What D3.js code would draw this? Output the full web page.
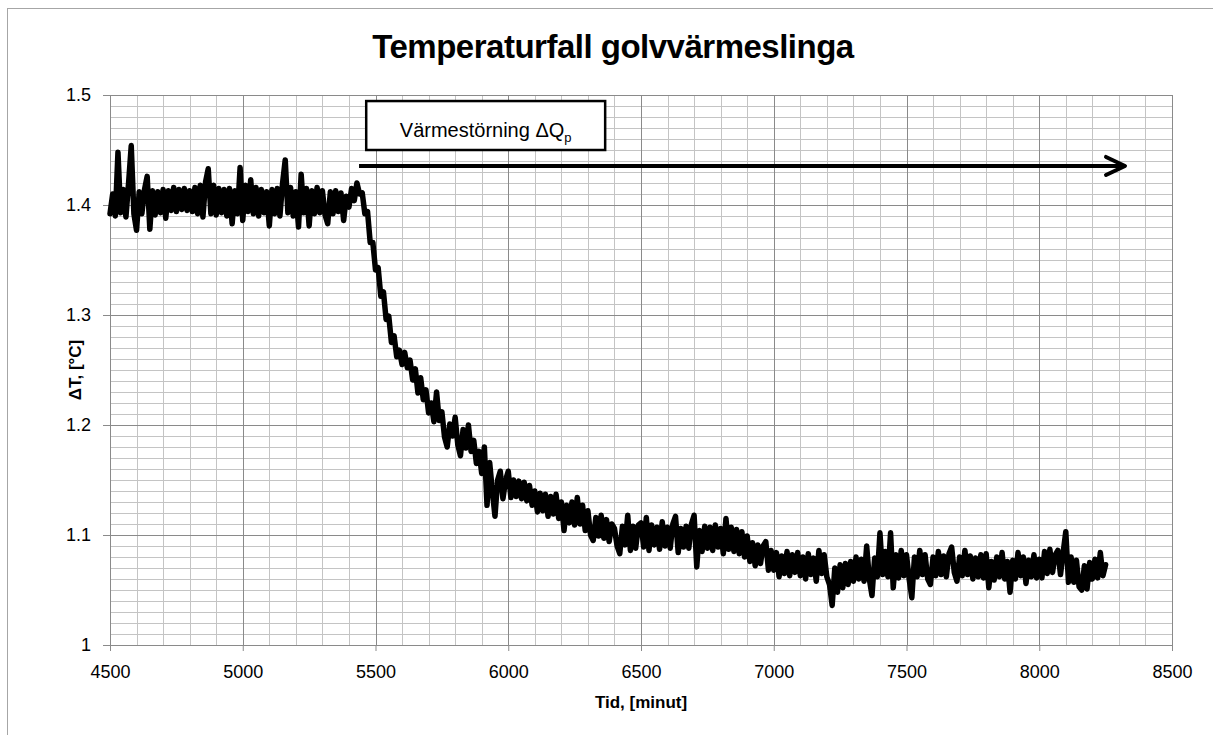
<!DOCTYPE html>
<html>
<head>
<meta charset="utf-8">
<script src="https://cdn.jsdelivr.net/npm/d3@7"></script>
<style>
    body { margin: 0; background: #fff; }
    svg { display: block; font-family: Arial, "Liberation Sans", sans-serif; }
</style>
</head>
<body>
<svg id="diagram" width="1213" height="735"></svg>
<script>

// Mätvärden, ett värde var 10:e minut.
var steg = 10;

// Stabil nivå före störningen (4500-5440 min).
var startStabil = 4500;
var deltaTStabil = [
    1.392, 1.410, 1.390, 1.448, 1.393, 1.414, 1.389, 1.420, 1.454, 1.392,
    1.377, 1.412, 1.392, 1.414, 1.426, 1.378, 1.413, 1.391, 1.412, 1.393,
    1.414, 1.388, 1.413, 1.395, 1.416, 1.394, 1.414, 1.396, 1.415, 1.395,
    1.413, 1.394, 1.416, 1.392, 1.418, 1.389, 1.421, 1.433, 1.392, 1.418,
    1.391, 1.415, 1.393, 1.414, 1.390, 1.415, 1.383, 1.413, 1.392, 1.434,
    1.386, 1.418, 1.394, 1.423, 1.392, 1.416, 1.390, 1.414, 1.393, 1.412,
    1.381, 1.414, 1.392, 1.415, 1.390, 1.420, 1.441, 1.393, 1.416, 1.390,
    1.412, 1.380, 1.428, 1.393, 1.415, 1.381, 1.413, 1.392, 1.416, 1.393,
    1.413, 1.391, 1.383, 1.412, 1.392, 1.413, 1.394, 1.411, 1.386, 1.408,
    1.398, 1.415, 1.404, 1.420, 1.410
];

// Fallet efter störningen (5450-5990 min).
var startFall = 5450;
var deltaTFall = [
    1.411, 1.392, 1.394, 1.366, 1.366, 1.341, 1.343, 1.317, 1.321, 1.296,
    1.299, 1.275, 1.281, 1.262, 1.268, 1.255, 1.266, 1.252, 1.259, 1.241,
    1.251, 1.229, 1.243, 1.223, 1.232, 1.211, 1.220, 1.203, 1.230, 1.204,
    1.212, 1.189, 1.180, 1.201, 1.190, 1.207, 1.182, 1.172, 1.196, 1.179,
    1.200, 1.176, 1.186, 1.165, 1.176, 1.156, 1.180, 1.127, 1.166, 1.140,
    1.117, 1.150, 1.158, 1.133, 1.150
];

// Ny jämviktsnivå (6000-8250 min).
var startSlut = 6000;
var deltaTSlut = [
    1.158, 1.134, 1.150, 1.135, 1.149, 1.133, 1.148, 1.131, 1.145, 1.127,
    1.140, 1.121, 1.138, 1.122, 1.137, 1.117, 1.135, 1.119, 1.137, 1.115,
    1.130, 1.104, 1.127, 1.111, 1.130, 1.109, 1.134, 1.110, 1.127, 1.104,
    1.122, 1.100, 1.095, 1.116, 1.099, 1.118, 1.097, 1.114, 1.094, 1.110,
    1.106, 1.090, 1.083, 1.108, 1.091, 1.118, 1.086, 1.108, 1.088, 1.109,
    1.111, 1.089, 1.116, 1.086, 1.109, 1.091, 1.107, 1.087, 1.112, 1.090,
    1.107, 1.088, 1.110, 1.117, 1.084, 1.106, 1.089, 1.108, 1.088, 1.110,
    1.118, 1.071, 1.104, 1.085, 1.108, 1.088, 1.107, 1.086, 1.109, 1.089,
    1.106, 1.083, 1.115, 1.087, 1.107, 1.085, 1.105, 1.083, 1.103, 1.080,
    1.099, 1.076, 1.093, 1.072, 1.091, 1.074, 1.090, 1.094, 1.068, 1.086,
    1.068, 1.084, 1.062, 1.081, 1.065, 1.085, 1.063, 1.082, 1.066, 1.084,
    1.063, 1.080, 1.060, 1.083, 1.064, 1.079, 1.058, 1.086, 1.065, 1.082,
    1.062, 1.055, 1.036, 1.070, 1.048, 1.073, 1.052, 1.074, 1.055, 1.076,
    1.058, 1.080, 1.060, 1.078, 1.058, 1.090, 1.060, 1.045, 1.079, 1.062,
    1.102, 1.064, 1.085, 1.062, 1.102, 1.052, 1.082, 1.061, 1.086, 1.063,
    1.082, 1.060, 1.043, 1.080, 1.062, 1.086, 1.064, 1.082, 1.060, 1.055,
    1.080, 1.063, 1.085, 1.064, 1.081, 1.062, 1.083, 1.089, 1.066, 1.058,
    1.080, 1.063, 1.086, 1.064, 1.081, 1.060, 1.079, 1.062, 1.082, 1.061,
    1.083, 1.052, 1.076, 1.059, 1.080, 1.062, 1.084, 1.060, 1.076, 1.048,
    1.077, 1.060, 1.084, 1.063, 1.080, 1.056, 1.077, 1.062, 1.082, 1.061,
    1.078, 1.061, 1.085, 1.065, 1.087, 1.066, 1.082, 1.086, 1.064, 1.084,
    1.103, 1.057, 1.080, 1.057, 1.077, 1.053, 1.050, 1.072, 1.051, 1.075,
    1.060, 1.078, 1.061, 1.084, 1.063, 1.073
];

// Axlarnas skalsteg och etiketter.
var xTicks = [4500, 5000, 5500, 6000, 6500, 7000, 7500, 8000, 8500];
var xTickLabels = ['4500', '5000', '5500', '6000', '6500', '7000', '7500', '8000', '8500'];
var yTicks = [1, 1.1, 1.2, 1.3, 1.4, 1.5];
var yTickLabels = ['1', '1.1', '1.2', '1.3', '1.4', '1.5'];

// Pilen och rutan för värmestörningen, i diagrammets enheter.
var storningRuta = { tidFran: 5465, tidTill: 6365, ovre: 1.4945, undre: 1.450 };
var storningPil = { tidFran: 5438, tidTill: 8323, niva: 1.4355 };


function tillPunkter(start, varden) {
    return varden.map(function (v, i) {
        return { tid: start + i * steg, dT: v };
    });
}

var data = tillPunkter(startStabil, deltaTStabil)
    .concat(tillPunkter(startFall, deltaTFall))
    .concat(tillPunkter(startSlut, deltaTSlut));

var svg = d3.select('#diagram');

var x = d3.scaleLinear().domain([4500, 8500]).range([110, 1172]);
var y = d3.scaleLinear().domain([1, 1.5]).range([645, 95]);

// Ram runt hela diagramytan.
svg.append('rect')
    .attr('x', 7.5).attr('y', 8.5)
    .attr('width', 1230).attr('height', 750)
    .attr('fill', 'none')
    .attr('stroke', '#a6a6a6');

// Stödlinjer, först de tunna sedan huvudlinjerna.
var grid = svg.append('g').attr('shape-rendering', 'crispEdges');

grid.selectAll('.xminor')
    .data(d3.range(4500, 8501, 100).filter(function (d) { return d % 500 !== 0; }))
    .enter().append('line')
    .attr('x1', function (d) { return Math.round(x(d)) + 0.5; })
    .attr('x2', function (d) { return Math.round(x(d)) + 0.5; })
    .attr('y1', y(1)).attr('y2', y(1.5))
    .attr('stroke', '#c4c4c4');

grid.selectAll('.yminor')
    .data(d3.range(0, 51).filter(function (d) { return d % 10 !== 0; }).map(function (d) { return 1 + d / 100; }))
    .enter().append('line')
    .attr('x1', x(4500)).attr('x2', x(8500))
    .attr('y1', function (d) { return Math.round(y(d)) + 0.5; })
    .attr('y2', function (d) { return Math.round(y(d)) + 0.5; })
    .attr('stroke', '#c4c4c4');

grid.selectAll('.xmajor')
    .data(xTicks)
    .enter().append('line')
    .attr('x1', function (d) { return Math.round(x(d)) + 0.5; })
    .attr('x2', function (d) { return Math.round(x(d)) + 0.5; })
    .attr('y1', y(1)).attr('y2', y(1.5))
    .attr('stroke', '#8a8a8a');

grid.selectAll('.ymajor')
    .data(yTicks)
    .enter().append('line')
    .attr('x1', x(4500)).attr('x2', x(8500))
    .attr('y1', function (d) { return Math.round(y(d)) + 0.5; })
    .attr('y2', function (d) { return Math.round(y(d)) + 0.5; })
    .attr('stroke', '#8a8a8a');

// Axlar.
var xAxis = svg.append('g')
    .attr('transform', 'translate(0,' + y(1) + ')')
    .call(d3.axisBottom(x).tickValues(xTicks)
        .tickFormat(function (d, i) { return xTickLabels[i]; })
        .tickSize(6).tickPadding(14));

var yAxis = svg.append('g')
    .attr('transform', 'translate(' + x(4500) + ',0)')
    .call(d3.axisLeft(y).tickValues(yTicks)
        .tickFormat(function (d, i) { return yTickLabels[i]; })
        .tickSize(7).tickPadding(12));

[xAxis, yAxis].forEach(function (a) {
    a.selectAll('path, line').attr('stroke', '#8a8a8a');
    a.selectAll('text')
        .attr('fill', '#000')
        .style('font-size', '18px')
        .style('font-family', 'Arial, "Liberation Sans", sans-serif');
});

// Mätserien.
var linje = d3.line()
    .x(function (d) { return x(d.tid); })
    .y(function (d) { return y(d.dT); });

svg.append('path')
    .datum(data)
    .attr('d', linje)
    .attr('fill', 'none')
    .attr('stroke', '#000')
    .attr('stroke-width', 5.5)
    .attr('stroke-linejoin', 'round')
    .attr('stroke-linecap', 'round');

// Ruta med text för värmestörningen.
svg.append('rect')
    .attr('x', x(storningRuta.tidFran))
    .attr('y', y(storningRuta.ovre))
    .attr('width', x(storningRuta.tidTill) - x(storningRuta.tidFran))
    .attr('height', y(storningRuta.undre) - y(storningRuta.ovre))
    .attr('fill', '#fff')
    .attr('stroke', '#000')
    .attr('stroke-width', 2.5);

var rutaText = svg.append('text')
    .attr('x', (x(storningRuta.tidFran) + x(storningRuta.tidTill)) / 2)
    .attr('y', 137)
    .attr('text-anchor', 'middle')
    .style('font-size', '20px');
rutaText.append('tspan').text('Värmestörning ΔQ');
rutaText.append('tspan').attr('dy', 5).style('font-size', '13px').text('p');

// Pilen.
var pilY = y(storningPil.niva);
var pilSlut = x(storningPil.tidTill);
svg.append('line')
    .attr('x1', x(storningPil.tidFran)).attr('x2', pilSlut - 2)
    .attr('y1', pilY).attr('y2', pilY)
    .attr('stroke', '#000')
    .attr('stroke-width', 4);
svg.append('polyline')
    .attr('points', [[pilSlut - 19, pilY - 9], [pilSlut, pilY], [pilSlut - 19, pilY + 9]].join(' '))
    .attr('fill', 'none')
    .attr('stroke', '#000')
    .attr('stroke-width', 4)
    .attr('stroke-linecap', 'round')
    .attr('stroke-linejoin', 'round');

// Titel och axeltitlar.
svg.append('text')
    .attr('x', 613).attr('y', 58)
    .attr('text-anchor', 'middle')
    .style('font-size', '33px')
    .style('font-weight', 'bold')
    .style('letter-spacing', '-0.5px')
    .text('Temperaturfall golvvärmeslinga');

svg.append('text')
    .attr('x', (x(4500) + x(8500)) / 2).attr('y', 708)
    .attr('text-anchor', 'middle')
    .style('font-size', '17px')
    .style('font-weight', 'bold')
    .text('Tid, [minut]');

svg.append('text')
    .attr('transform', 'translate(81,' + (y(1) + y(1.5)) / 2 + ') rotate(-90)')
    .attr('text-anchor', 'middle')
    .style('font-size', '17px')
    .style('font-weight', 'bold')
    .text('ΔT, [°C]');

</script>
</body>
</html>
